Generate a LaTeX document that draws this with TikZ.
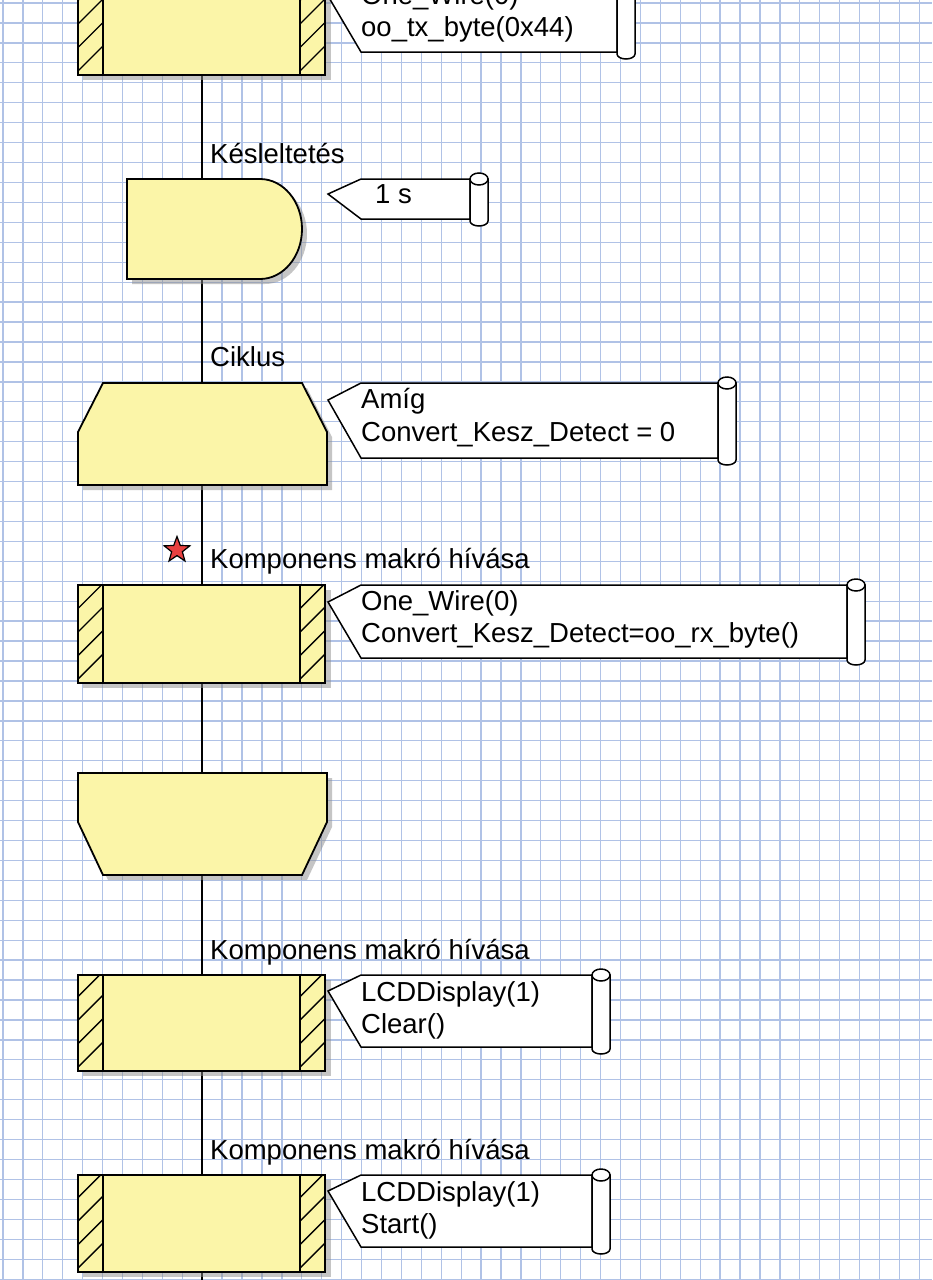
\documentclass[tikz,border=0pt]{standalone}
\usepackage{fontspec}
\setmainfont{Liberation Sans}
\usetikzlibrary{shapes.geometric}
\definecolor{blkyellow}{RGB}{251,245,168}
\definecolor{gridblue}{RGB}{176,194,230}
\definecolor{starred}{RGB}{232,64,64}
\tikzset{
  blk/.style={draw=black, line width=1.8pt, fill=blkyellow, line join=miter},
  shd/.style={fill=black!45, opacity=0.5},
  cmt/.style={draw=black, line width=1.5pt, fill=white},
  hatchline/.style={draw=black, line width=1.4pt},
  conn/.style={draw=black, line width=1.6pt},
  gridline/.style={draw=gridblue, line width=1.3pt},
  lbl/.style={anchor=base west, inner sep=0pt, font=\fontsize{27.5}{32}\selectfont},
}
\newcommand{\macroblk}[2]{%
  \fill[shd] (83,{#1+5}) rectangle (331,{#2+5});
  \filldraw[blk] (78,#1) rectangle (325,#2);
  \begin{scope}
    \clip (78,#1) rectangle (103,#2);
    \foreach \k in {0,...,6} {\draw[hatchline] (78,{#2-4-23.5*\k}) -- ++(25,-25);}
  \end{scope}
  \begin{scope}
    \clip (300,#1) rectangle (325,#2);
    \foreach \k in {0,...,6} {\draw[hatchline] (300,{#2-4-23.5*\k}) -- ++(25,-25);}
  \end{scope}
  \draw[blk, fill=none] (78,#1) rectangle (325,#2);
  \draw[hatchline, line width=1.8pt] (103,#1) -- (103,#2);
  \draw[hatchline, line width=1.8pt] (300,#1) -- (300,#2);
}
% #1 top, #2 bottom, #3 right, #4 point y
\newcommand{\cmtshape}[4]{%
  \filldraw[cmt] (328,#4) -- (361,#1) -- (#3,#1) -- (#3,#2) -- (361,#2) -- cycle;
  \filldraw[cmt] (#3,#1) -- (#3,{#2+2}) arc[start angle=180, end angle=0, x radius=9, y radius=5] -- ({#3+18},#1) -- cycle;
  \filldraw[cmt] ({#3+9},#1) ellipse [x radius=9, y radius=6];
}
\begin{document}
\begin{tikzpicture}[x=1pt,y=-1pt]
\useasboundingbox (0,0) rectangle (932,1280);
\fill[white] (0,0) rectangle (932,1280);
% grid
\foreach \i in {0,...,47} {\draw[gridline] ({3+19.92*\i},0) -- ({3+19.92*\i},1280);}
\foreach \j in {0,...,64} {\draw[gridline] (0,{3+19.94*\j}) -- (932,{3+19.94*\j});}

% anchor coordinates for connectors
\coordinate (m1b) at (202,75);
\coordinate (dlt) at (202,179);
\coordinate (dlb) at (202,279);
\coordinate (lst) at (202,383);
\coordinate (lsb) at (202,485);
\coordinate (m2t) at (202,585);
\coordinate (m2b) at (202,683);
\coordinate (let) at (202,773);
\coordinate (leb) at (202,875);
\coordinate (m3t) at (202,975);
\coordinate (m3b) at (202,1071);
\coordinate (m4t) at (202,1175);
\coordinate (m4b) at (202,1272);
\coordinate (endc) at (202,1290);

% connectors
\draw[conn] (m1b) -- (dlt);
\draw[conn] (dlb) -- (lst);
\draw[conn] (lsb) -- (m2t);
\draw[conn] (m2b) -- (let);
\draw[conn] (leb) -- (m3t);
\draw[conn] (m3b) -- (m4t);
\draw[conn] (m4b) -- (endc);

% block 1 (top, cut off)
\macroblk{-30}{75}
\cmtshape{-21}{52}{617}{-4}
\node[lbl] (c1a) at (361,4) {One\_Wire(0)};
\node[lbl] (c1b) at (361,36) {oo\_tx\_byte(0x44)};

% delay
\node[lbl] (ldelay) at (210,163) {Késleltetés};
\fill[shd] (132,184) -- (265,184) arc[start angle=-90, end angle=90, x radius=42, y radius=50] -- (132,284) -- cycle;
\filldraw[blk] (127,179) -- (260,179) arc[start angle=-90, end angle=90, x radius=42, y radius=50] -- (127,279) -- cycle;
\cmtshape{179}{219}{470}{194}
\node[lbl] (cdelay) at (375,203) {1 s};

% loop start
\node[lbl] (lloop) at (210,366) {Ciklus};
\fill[shd] (108,388) -- (307,388) -- (332,437) -- (332,490) -- (83,490) -- (83,437) -- cycle;
\filldraw[blk] (103,383) -- (302,383) -- (327,432) -- (327,485) -- (78,485) -- (78,432) -- cycle;
\cmtshape{383}{458}{718}{400}
\node[lbl] (cloopa) at (361,408) {Amíg};
\node[lbl] (cloopb) at (361,441) {Convert\_Kesz\_Detect = 0};

% macro 2
\node[star, star points=5, star point ratio=2.4, minimum size=27pt, inner sep=0pt, fill=starred, draw=black, line width=1.2pt] (star) at (177,550) {};
\node[lbl] (lm2) at (210,568) {Komponens makró hívása};
\macroblk{585}{683}
\cmtshape{585}{658}{847}{602}
\node[lbl] (cm2a) at (361,610) {One\_Wire(0)};
\node[lbl] (cm2b) at (361,642) {Convert\_Kesz\_Detect=oo\_rx\_byte()};

% loop end
\fill[shd] (83,778) -- (332,778) -- (332,827) -- (307,880) -- (108,880) -- (83,827) -- cycle;
\filldraw[blk] (78,773) -- (327,773) -- (327,822) -- (302,875) -- (103,875) -- (78,822) -- cycle;

% macro 3
\node[lbl] (lm3) at (210,959) {Komponens makró hívása};
\macroblk{975}{1071}
\cmtshape{975}{1047}{592}{991}
\node[lbl] (cm3a) at (361,1001) {LCDDisplay(1)};
\node[lbl] (cm3b) at (361,1033) {Clear()};

% macro 4
\node[lbl] (lm4) at (210,1159) {Komponens makró hívása};
\macroblk{1175}{1272}
\cmtshape{1175}{1247}{592}{1191}
\node[lbl] (cm4a) at (361,1201) {LCDDisplay(1)};
\node[lbl] (cm4b) at (361,1233) {Start()};
\end{tikzpicture}
\end{document}
